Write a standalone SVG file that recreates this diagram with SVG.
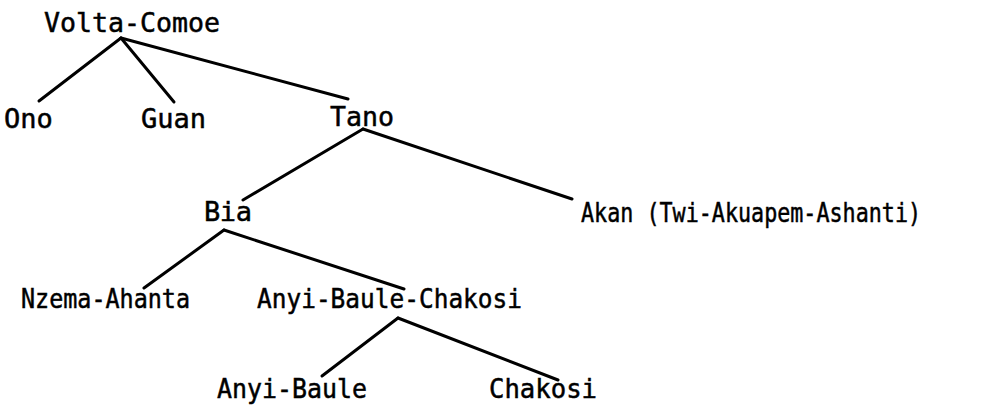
<svg xmlns="http://www.w3.org/2000/svg" width="1000" height="414" viewBox="0 0 1000 414">
<style>
text{font-family:"DejaVu Sans Mono","Liberation Mono",monospace;font-size:27px;fill:#000;stroke:#000;stroke-width:0.5}
.c line{stroke:#000;stroke-width:3;stroke-linecap:round}
</style>
<rect width="1000" height="414" fill="#fff"/>
<g class="c" id="connectors">
<line x1="121" y1="38" x2="39" y2="101"/>
<line x1="121" y1="38" x2="174" y2="102"/>
<line x1="121" y1="38" x2="348" y2="99"/>
<line x1="363" y1="129" x2="243" y2="200"/>
<line x1="363" y1="129" x2="572" y2="199"/>
<line x1="224" y1="230" x2="144" y2="288"/>
<line x1="224" y1="230" x2="404" y2="289"/>
<line x1="398" y1="318" x2="322" y2="376"/>
<line x1="398" y1="318" x2="558" y2="380"/>
</g>
<g id="n-volta"><text x="44" y="32" textLength="176" lengthAdjust="spacingAndGlyphs">Volta-Comoe</text></g>
<g id="n-ono"><text x="4" y="128">Ono</text></g>
<g id="n-guan"><text x="141" y="128">Guan</text></g>
<g id="n-tano"><text x="330" y="126" textLength="64" lengthAdjust="spacingAndGlyphs">Tano</text></g>
<g id="n-bia"><text x="204" y="221" textLength="48" lengthAdjust="spacing">Bia</text></g>
<g id="n-akan"><text transform="translate(581 222) scale(0.805 1)" x="0" y="0">Akan (Twi-Akuapem-Ashanti)</text></g>
<g id="n-nzema"><text x="21" y="308" textLength="169" lengthAdjust="spacingAndGlyphs">Nzema-Ahanta</text></g>
<g id="n-abc"><text x="257" y="308" textLength="265" lengthAdjust="spacingAndGlyphs">Anyi-Baule-Chakosi</text></g>
<g id="n-ab"><text x="217" y="398" textLength="150" lengthAdjust="spacingAndGlyphs">Anyi-Baule</text></g>
<g id="n-chakosi"><text x="489" y="398" textLength="108" lengthAdjust="spacingAndGlyphs">Chakosi</text></g>
</svg>
